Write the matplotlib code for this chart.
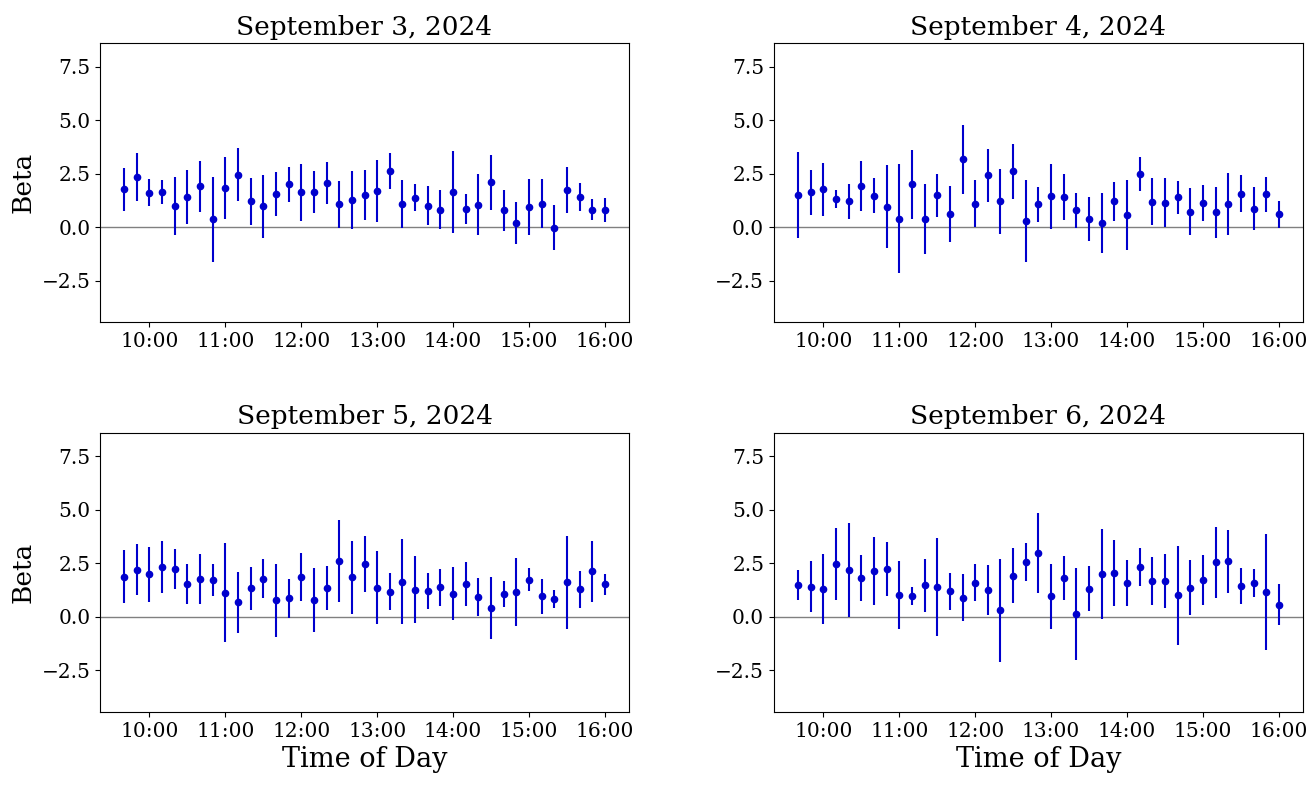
import matplotlib
matplotlib.use("Agg")
import matplotlib.pyplot as plt
import matplotlib.dates as mdates
import pandas as pd

plt.rcParams['font.family'] = ['DejaVu Serif']

times = pd.date_range("2024-09-03 09:40", "2024-09-03 16:00", freq="10min")

titles = ["September 3, 2024", "September 4, 2024",
          "September 5, 2024", "September 6, 2024"]

beta_sep3 = [1.76, 2.36, 1.61, 1.64, 0.98, 1.40, 1.90, 0.37, 1.84, 2.45,
             1.20, 0.97, 1.54, 2.00, 1.62, 1.64, 2.06, 1.06, 1.25, 1.51,
             1.68, 2.62, 1.09, 1.37, 1.00, 0.81, 1.65, 0.84, 1.05, 2.09,
             0.78, 0.20, 0.95, 1.09, -0.02, 1.73, 1.42, 0.80, 0.78]
err_sep3 = [1.02, 1.12, 0.62, 0.56, 1.35, 1.26, 1.20, 1.98, 1.45, 1.23,
            1.10, 1.47, 1.04, 0.83, 1.33, 0.96, 1.00, 1.08, 1.36, 1.17,
            1.45, 0.82, 1.13, 0.62, 0.92, 0.90, 1.91, 0.69, 1.41, 1.27,
            0.94, 0.97, 1.31, 1.15, 1.07, 1.08, 0.65, 0.49, 0.56]

beta_sep4 = [1.50, 1.62, 1.77, 1.31, 1.20, 1.92, 1.47, 0.94, 0.39, 2.00,
             0.37, 1.48, 0.59, 3.16, 1.09, 2.42, 1.20, 2.61, 0.27, 1.06,
             1.44, 1.42, 0.78, 0.39, 0.17, 1.20, 0.55, 2.48, 1.19, 1.14,
             1.39, 0.72, 1.12, 0.69, 1.09, 1.56, 0.86, 1.53, 0.59]
err_sep4 = [2.00, 1.06, 1.24, 0.42, 0.80, 1.15, 0.83, 1.94, 2.55, 1.60,
            1.64, 1.00, 1.31, 1.62, 1.10, 1.24, 1.53, 1.29, 1.92, 0.80,
            1.53, 1.08, 0.82, 1.03, 1.40, 0.92, 1.64, 0.81, 1.11, 1.13,
            0.78, 1.10, 0.84, 1.20, 1.46, 0.86, 1.01, 0.83, 0.64]

beta_sep5 = [1.88, 2.20, 1.98, 2.31, 2.23, 1.55, 1.75, 1.72, 1.13, 0.67,
             1.34, 1.78, 0.77, 0.86, 1.86, 0.78, 1.36, 2.61, 1.84, 2.47,
             1.36, 1.17, 1.64, 1.27, 1.20, 1.38, 1.08, 1.53, 0.92, 0.41,
             1.08, 1.16, 1.73, 0.95, 0.81, 1.61, 1.28, 2.13, 1.52]
err_sep5 = [1.25, 1.20, 1.30, 1.21, 0.93, 0.93, 1.17, 0.75, 2.30, 1.41,
            1.00, 0.90, 1.70, 0.92, 1.14, 1.50, 1.03, 1.91, 1.70, 1.30,
            1.71, 0.87, 1.98, 1.56, 0.84, 0.86, 1.25, 1.02, 0.88, 1.47,
            0.60, 1.58, 0.54, 0.81, 0.42, 2.17, 0.88, 1.42, 0.49]

beta_sep6 = [1.47, 1.41, 1.28, 2.47, 2.20, 1.83, 2.13, 2.23, 1.02, 0.98,
             1.47, 1.38, 1.20, 0.88, 1.59, 1.25, 0.30, 1.91, 2.56, 2.98,
             0.95, 1.81, 0.13, 1.31, 1.98, 2.05, 1.58, 2.31, 1.67, 1.67,
             1.00, 1.36, 1.72, 2.55, 2.59, 1.45, 1.56, 1.16, 0.56]
err_sep6 = [0.70, 1.20, 1.64, 1.67, 2.20, 1.07, 1.58, 1.27, 1.60, 0.42,
            1.25, 2.30, 0.86, 1.10, 0.86, 1.17, 2.42, 1.28, 0.90, 1.88,
            1.50, 1.02, 2.13, 1.05, 2.10, 1.54, 1.08, 0.89, 1.10, 1.24,
            2.31, 1.30, 1.15, 1.66, 1.47, 0.83, 0.65, 2.70, 0.95]

betas = [beta_sep3, beta_sep4, beta_sep5, beta_sep6]
errs = [err_sep3, err_sep4, err_sep5, err_sep6]

fig, axes = plt.subplots(2, 2, figsize=(13.14, 7.86), dpi=100)
fig.subplots_adjust(left=0.0761, right=0.9916, top=0.9453, bottom=0.0941,
                    wspace=0.274, hspace=0.395)

for i, ax in enumerate(axes.flat):
    ax.axhline(0, color="gray", linewidth=1, zorder=1)
    ax.errorbar(times, betas[i], yerr=errs[i], fmt="o", color="mediumblue",
                markersize=4.5, elinewidth=1.5, zorder=2)
    ax.set_title(titles[i], fontsize=19)
    ax.set_ylim(-4.45, 8.6)
    ax.set_yticks([-2.5, 0, 2.5, 5, 7.5])
    ax.xaxis.set_major_locator(mdates.HourLocator())
    ax.xaxis.set_major_formatter(mdates.DateFormatter("%H:%M"))
    ax.tick_params(labelsize=14.5)
    if i % 2 == 0:
        ax.set_ylabel("Beta", fontsize=19)
    if i >= 2:
        ax.set_xlabel("Time of Day", fontsize=19.5)

plt.savefig("out.png", dpi=100)
